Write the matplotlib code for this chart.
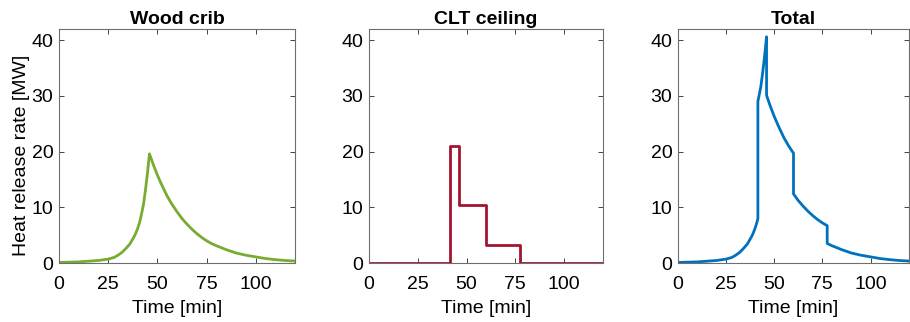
# hrr_panels.py
# heat release rate of the wood crib, the CLT ceiling and the total, side by side
import matplotlib.pyplot as plt
import numpy as np

plt.rcParams["font.family"] = ["Liberation Sans", "DejaVu Sans"]

# time (min); step times appear twice so the ceiling curve jumps vertically
time_min = [0, 10, 20, 25, 28, 30, 32, 34, 36, 38,
            39, 40, 41, 41.5,
            41.5, 43, 44, 45, 46,
            46, 48, 50, 52, 55, 57.5, 60,
            60, 62.5, 65, 67.5, 70, 72.5, 75, 77.5,
            77.5, 80, 85, 90, 95, 100, 105, 110, 115, 120]
# heat release rate of the wood crib (MW)
wood_crib = [0.1, 0.2, 0.45, 0.7, 1.0, 1.4, 1.9, 2.6, 3.4, 4.6,
             5.3, 6.2, 7.3, 8.0,
             8.0, 10.6, 13.2, 16.2, 19.6,
             19.6, 17.6, 15.8, 14.2, 12.0, 10.5, 9.2,
             9.2, 8.0, 7.0, 6.1, 5.3, 4.6, 4.0, 3.5,
             3.5, 3.1, 2.4, 1.8, 1.4, 1.1, 0.8, 0.6, 0.45, 0.35]
# heat release rate of the CLT ceiling (MW)
clt_ceiling = [0] * 14 + [21] * 5 + [10.5] * 7 + [3.2] * 8 + [0] * 10

total = np.array(wood_crib) + np.array(clt_ceiling)

titles = ["Wood crib", "CLT ceiling", "Total"]
series = [wood_crib, clt_ceiling, total]
colors = ["#77AC30", "#A2142F", "#0072BD"]

fig = plt.figure(figsize=(9.1, 3.22), dpi=100)
lefts = [59, 369, 678]
widths = [236, 234, 231]

for left, width, title, y, color in zip(lefts, widths, titles, series, colors):
    ax = fig.add_axes([left / 910, 59 / 322, width / 910, 234 / 322])
    ax.plot(time_min, y, color=color, lw=2.0)
    ax.set_xlim(0, 120)
    ax.set_ylim(0, 42)
    ax.set_xticks([0, 25, 50, 75, 100])
    ax.set_yticks([0, 10, 20, 30, 40])
    ax.tick_params(direction="in", top=True, right=True, length=3.5,
                   width=0.7, color="#444444", labelsize=14)
    ax.tick_params(axis="x", pad=9.5)
    ax.tick_params(axis="y", pad=4)
    for spine in ax.spines.values():
        spine.set_color("#6e6e6e")
        spine.set_linewidth(0.8)
    ax.set_title(title, fontsize=14, fontweight="bold", pad=3.5)
    ax.set_xlabel("Time [min]", fontsize=14, labelpad=5)

fig.axes[0].set_ylabel("Heat release rate [MW]", fontsize=14)
fig.axes[0].yaxis.set_label_coords(-0.125, 0.46)

fig.savefig("out.png", dpi=100)
